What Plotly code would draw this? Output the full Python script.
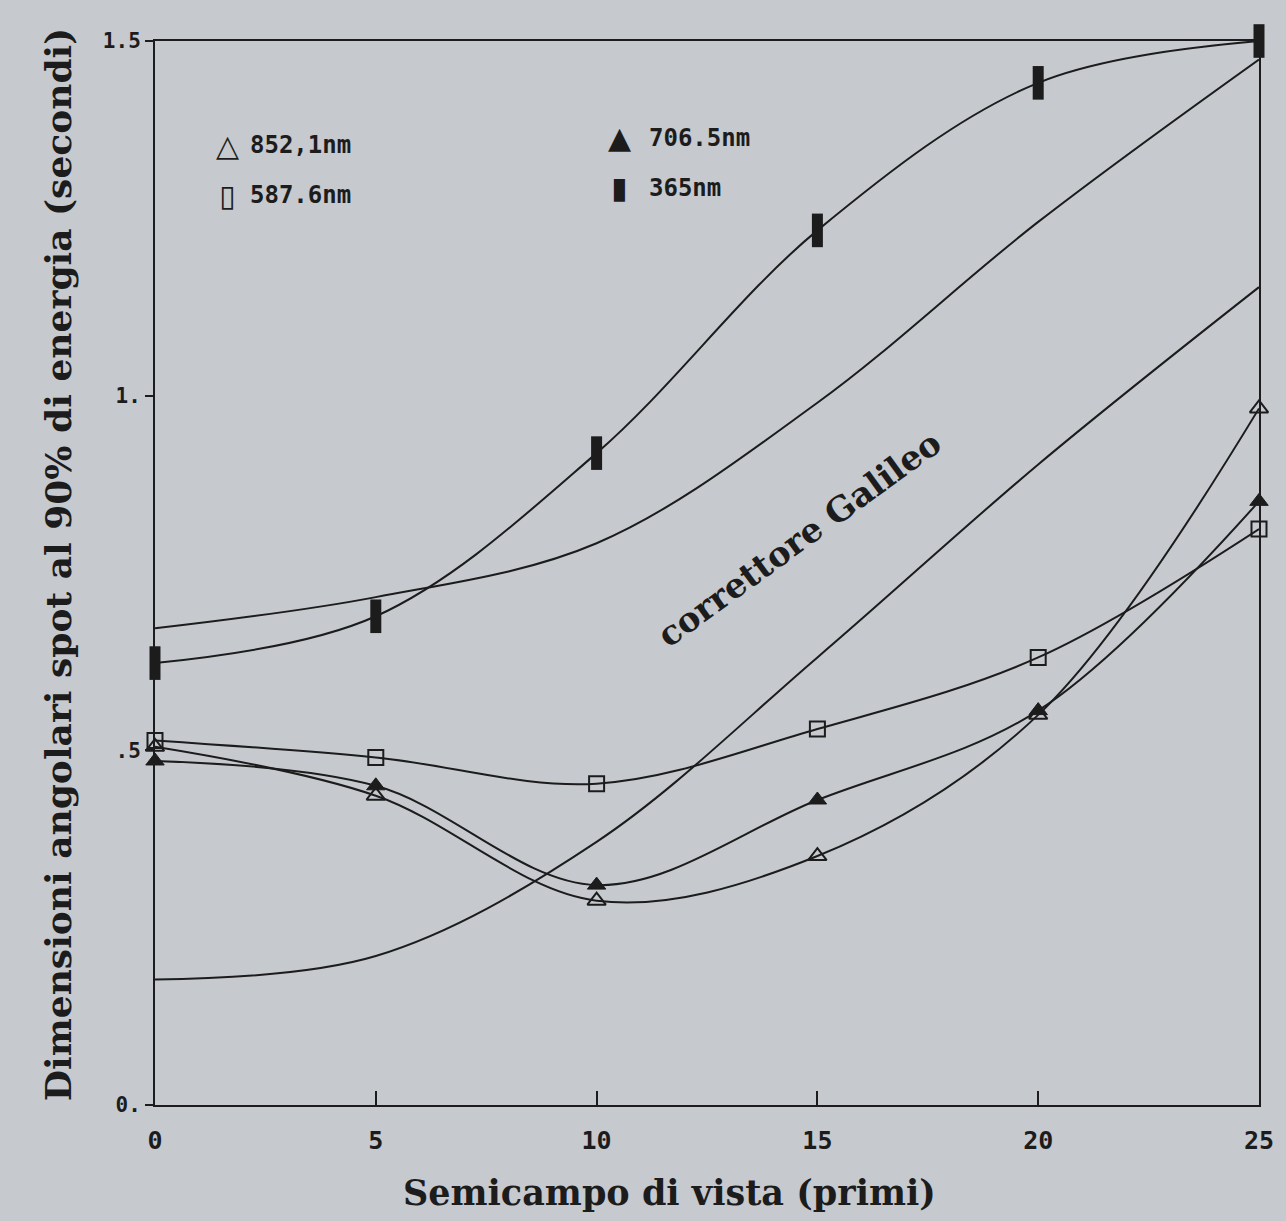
import plotly.graph_objects as go

# Field half-angle (arcmin)
x_field = [0, 5, 10, 15, 20, 25]

# 90% encircled-energy spot size (arcsec)
y_852 = [0.505, 0.436, 0.288, 0.351, 0.550, 0.982]
y_587 = [0.514, 0.490, 0.453, 0.530, 0.631, 0.812]
y_706 = [0.485, 0.450, 0.310, 0.430, 0.556, 0.851]
y_365 = [0.623, 0.689, 0.919, 1.233, 1.441, 1.500]

# unmarked curves
y_curve_a = [0.672, 0.716, 0.792, 0.990, 1.245, 1.474]
y_galileo = [0.177, 0.210, 0.371, 0.631, 0.903, 1.153]

x_tickvals = [0, 5, 10, 15, 20, 25]
x_ticktext = ["0", "5", "10", "15", "20", "25"]
y_tickvals = [0, 0.5, 1.0, 1.5]
y_ticktext = ["0.", ".5", "1.", "1.5"]

legend_glyphs = ["\u25B3", "\u25AF", "\u25B2", "\u25AE"]
legend_labels = ["852,1nm", "587.6nm", "706.5nm", "365nm"]

INK = "#1c1c1c"
PAPER = "#c6c9ce"
MONO = "DejaVu Sans Mono"
SERIF = "DejaVu Serif"

fig = go.Figure()

line_style = dict(color=INK, width=2, shape="spline", smoothing=1.0)

fig.add_trace(go.Scatter(x=x_field, y=y_curve_a, mode="lines", line=line_style,
                         name="curve A", showlegend=False))
fig.add_trace(go.Scatter(x=x_field, y=y_galileo, mode="lines", line=line_style,
                         name="correttore Galileo", showlegend=False))
fig.add_trace(go.Scatter(x=x_field, y=y_852, mode="lines+markers", line=line_style,
                         marker=dict(symbol="triangle-up-open", size=16, color=INK,
                                     line=dict(width=2, color=INK)),
                         name="852,1nm", showlegend=False, cliponaxis=False))
fig.add_trace(go.Scatter(x=x_field, y=y_587, mode="lines+markers", line=line_style,
                         marker=dict(symbol="square-open", size=15, color=INK,
                                     line=dict(width=2, color=INK)),
                         name="587.6nm", showlegend=False, cliponaxis=False))
fig.add_trace(go.Scatter(x=x_field, y=y_706, mode="lines+markers", line=line_style,
                         marker=dict(symbol="triangle-up", size=16, color=INK,
                                     line=dict(width=1, color=INK)),
                         name="706.5nm", showlegend=False, cliponaxis=False))
fig.add_trace(go.Scatter(x=x_field, y=y_365, mode="lines+markers", line=line_style,
                         marker=dict(symbol="line-ns", size=24, color=INK,
                                     line=dict(width=11, color=INK)),
                         name="365nm", showlegend=False, cliponaxis=False))

# legend drawn as text (glyph + label), 2 x 2 layout
legend_pos = [(0.066, 0.084, 0.902), (0.066, 0.084, 0.855),
              (0.421, 0.446, 0.909), (0.421, 0.446, 0.862)]
annotations = []
for glyph, label, (gx, tx, ty) in zip(legend_glyphs, legend_labels, legend_pos):
    annotations.append(dict(text=glyph, x=gx, y=ty, xref="paper", yref="paper",
                            xanchor="center", yanchor="middle", showarrow=False,
                            font=dict(family="DejaVu Sans", size=30, color=INK)))
    annotations.append(dict(text=label, x=tx, y=ty, xref="paper", yref="paper",
                            xanchor="left", yanchor="middle", showarrow=False,
                            font=dict(family=MONO, size=24, color=INK, weight="bold")))

annotations.append(dict(text="correttore Galileo", x=0.583, y=0.532, xref="paper", yref="paper",
                        showarrow=False, textangle=-36,
                        font=dict(family=SERIF, size=34, color=INK, weight="bold")))
annotations.append(dict(text="Semicampo di vista (primi)", x=0.466, y=-0.082,
                        xref="paper", yref="paper", showarrow=False,
                        xanchor="center", yanchor="middle",
                        font=dict(family=SERIF, size=35, color=INK, weight="bold")))
annotations.append(dict(text="Dimensioni angolari spot al 90% di energia (secondi)",
                        x=-0.0877, y=0.5075, xref="paper", yref="paper", showarrow=False,
                        textangle=-90, xanchor="center", yanchor="middle",
                        font=dict(family=SERIF, size=36, color=INK, weight="bold")))

fig.update_layout(
    width=1286, height=1221,
    margin=dict(l=155, r=25, t=41, b=116),
    paper_bgcolor=PAPER, plot_bgcolor=PAPER,
    annotations=annotations,
    showlegend=False,
)
fig.update_xaxes(range=[0, 25], tickvals=x_tickvals, ticktext=x_ticktext,
                 showgrid=False, zeroline=False, showline=True, linecolor=INK,
                 linewidth=2, mirror=True, ticks="inside", ticklen=14, tickwidth=2,
                 tickcolor=INK, ticklabelstandoff=12,
                 tickfont=dict(family=MONO, size=25, color=INK, weight="bold"))
fig.update_yaxes(range=[0, 1.5], tickvals=y_tickvals, ticktext=y_ticktext,
                 showgrid=False, zeroline=False, showline=True, linecolor=INK,
                 linewidth=2, mirror=True, ticks="outside", ticklen=8, tickwidth=2,
                 tickcolor=INK,
                 tickfont=dict(family=MONO, size=21, color=INK, weight="bold"))

fig.write_html(
    "out.html",
    config={"displayModeBar": False},
    post_script="document.body.style.margin='0';document.body.style.background='%s';" % PAPER,
)
